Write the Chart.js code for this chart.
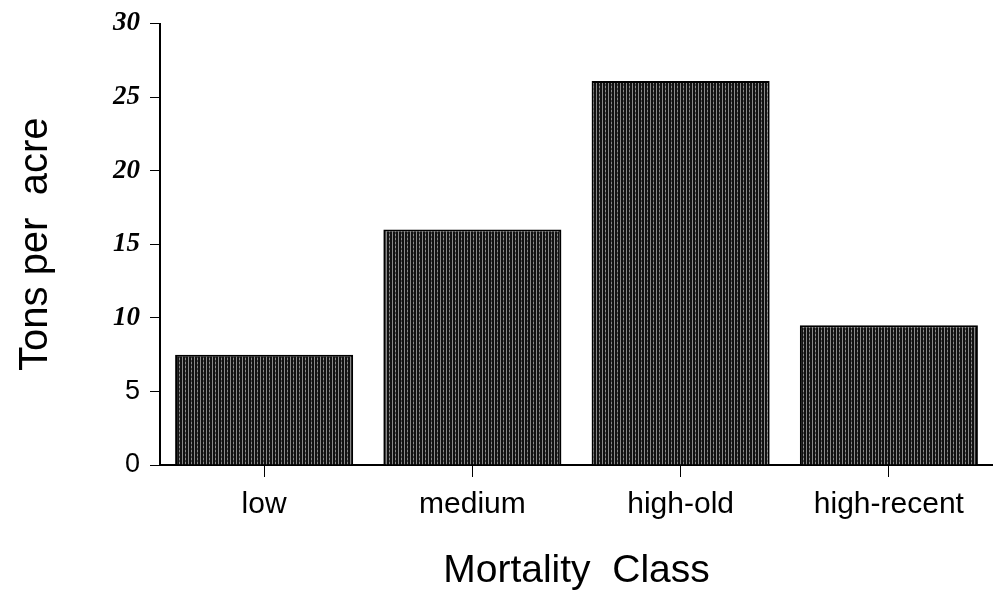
<!DOCTYPE html>
<html>
<head>
<meta charset="utf-8">
<script src="https://cdn.jsdelivr.net/npm/chart.js@4"></script>
<style>
  html, body { margin: 0; padding: 0; background: #fff; }
  #wrap { width: 993px; height: 591px; }
</style>
</head>
<body>
<div id="wrap"><canvas id="mortalityChart" width="993" height="591"></canvas></div>
<script>
// data
var categories = ['low', 'medium', 'high-old', 'high-recent'];
var tonsPerAcre = [7.5, 16.0, 26.1, 9.5];
var yTicks = [0, 5, 10, 15, 20, 25, 30];

// vertical hatch texture like the printed bars
function stripePattern() {
    var c = document.createElement('canvas');
    c.width = 6; c.height = 4;
    var g = c.getContext('2d');
    g.fillStyle = '#8a8a8a';
    g.fillRect(0, 0, 6, 4);
    g.fillStyle = '#111';
    g.fillRect(0, 0, 2, 4);
    g.fillRect(3, 0, 2, 4);
    g.fillStyle = '#444';
    g.fillRect(5, 0, 1, 2);
    return document.getElementById('mortalityChart').getContext('2d').createPattern(c, 'repeat');
}

var ctx = document.getElementById('mortalityChart').getContext('2d');
var chart = new Chart(ctx, {
    type: 'bar',
    data: {
        labels: categories,
        datasets: [{
            label: 'Tons per acre',
            data: tonsPerAcre,
            backgroundColor: stripePattern(),
            borderColor: '#000',
            borderWidth: 2,
            barPercentage: 0.9,
            categoryPercentage: 0.95
        }]
    },
    options: {
        responsive: false,
        animation: false,
        layout: { padding: { left: 8, right: 0, top: 10, bottom: 0 } },
        plugins: {
            legend: { display: false },
            tooltip: { enabled: false }
        },
        scales: {
            x: {
                grid: { display: true, drawOnChartArea: false, drawTicks: true, tickLength: 12, offset: false, color: '#000' },
                border: { color: '#000', width: 2 },
                ticks: {
                    color: '#000',
                    padding: 10,
                    font: { family: 'Liberation Sans', size: 30 }
                },
                title: {
                    display: true,
                    text: 'Mortality  Class',
                    color: '#000',
                    padding: { top: 4, bottom: 0 },
                    font: { family: 'Liberation Sans', size: 39, lineHeight: 1 }
                },
                afterFit: function (scale) { scale.height = 126; }
            },
            y: {
                min: 0,
                max: 30,
                afterBuildTicks: function (scale) {
                    scale.ticks = yTicks.map(function (v) { return { value: v }; });
                },
                grid: { display: true, drawOnChartArea: false, drawTicks: true, tickLength: 10, color: '#000' },
                border: { color: '#000', width: 2 },
                ticks: {
                    color: '#000',
                    padding: 10,
                    font: function (context) {
                        var v = context.tick ? context.tick.value : 0;
                        if (v >= 10) {
                            return { family: 'Liberation Serif', size: 27, weight: 'bold', style: 'italic', lineHeight: 1 };
                        }
                        return { family: 'Liberation Sans', size: 27, lineHeight: 1 };
                    }
                },
                title: {
                    display: true,
                    text: 'Tons per  acre',
                    color: '#000',
                    font: { family: 'Liberation Sans', size: 40 }
                },
                afterFit: function (scale) { scale.width = 152; }
            }
        }
    }
});
</script>
</body>
</html>
